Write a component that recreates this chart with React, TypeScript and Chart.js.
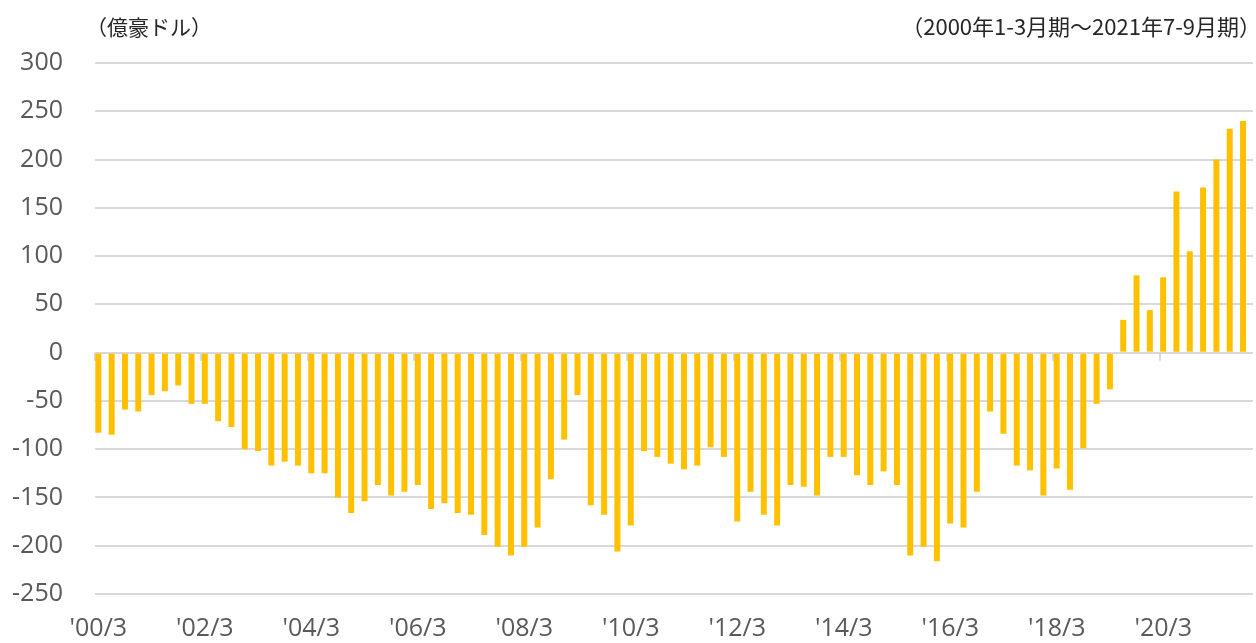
import { useEffect, useRef } from "react";
import { Chart, registerables } from "chart.js";

Chart.register(...registerables);

// Quarterly categories: 2000 Jan-Mar (…/3) to 2021 Jul-Sep (…/9)
const years = [2000, 2001, 2002, 2003, 2004, 2005, 2006, 2007, 2008, 2009, 2010, 2011, 2012, 2013, 2014, 2015, 2016, 2017, 2018, 2019, 2020, 2021];
const quarterMonths = [3, 6, 9, 12];
const categories: string[] = [];
years.forEach((y) => {
  quarterMonths.forEach((m) => {
    if (y === 2021 && m === 12) return;
    categories.push(`'${String(y).slice(2)}/${m}`);
  });
});

const tickLabels = ["'00/3", "'02/3", "'04/3", "'06/3", "'08/3", "'10/3", "'12/3", "'14/3", "'16/3", "'18/3", "'20/3"];

// 億豪ドル
const balance = [
  -83, -85, -59, -61, -44, -40, -34, -53,
  -53, -71, -77, -100, -102, -117, -113, -117,
  -125, -125, -150, -166, -154, -137, -148, -144,
  -137, -162, -156, -166, -168, -189, -201, -210,
  -201, -181, -131, -90, -44, -158, -168, -206,
  -179, -102, -108, -115, -121, -117, -98, -108,
  -175, -144, -168, -179, -137, -139, -148, -108,
  -108, -127, -137, -123, -137, -210, -201, -216,
  -177, -181, -144, -61, -84, -117, -122, -148,
  -120, -142, -99, -53, -38, 34, 80, 44,
  78, 167, 105, 171, 200, 232, 240,
];

const yMin = -250;
const yMax = 300;
const yStep = 50;

const unitTitle = "（億豪ドル）";
const periodTitle = "（2000年1-3月期～2021年7-9月期）";

const LABEL_FONT = '"Open Sans", "Noto Sans CJK JP", sans-serif';
const TITLE_FONT = '"Noto Sans CJK JP", "Open Sans", sans-serif';

export default function App() {
  const ref = useRef<HTMLCanvasElement | null>(null);

  useEffect(() => {
    if (!ref.current) return;

    const decor = {
      id: "decor",
      beforeDatasetsDraw(chart: any) {
        const { ctx } = chart;
        const xs = chart.scales.x;
        const ys = chart.scales.y;
        const zero = ys.getPixelForValue(0);
        const pitch = xs.width / categories.length;
        ctx.save();
        ctx.strokeStyle = "#d9d9d9";
        ctx.lineWidth = 2;
        for (let i = 0; i < categories.length; i += 8) {
          const x = Math.round(xs.getPixelForValue(i) - pitch / 2);
          ctx.beginPath();
          ctx.moveTo(x, zero);
          ctx.lineTo(x, zero + 8);
          ctx.stroke();
        }
        ctx.restore();
      },
      afterDraw(chart: any) {
        const { ctx } = chart;
        ctx.save();
        ctx.fillStyle = "#262626";
        ctx.textBaseline = "middle";
        ctx.font = `21px ${TITLE_FONT}`;
        ctx.textAlign = "left";
        ctx.fillText(unitTitle, 86, 27);
        ctx.font = `22px ${TITLE_FONT}`;
        ctx.textAlign = "right";
        ctx.fillText(periodTitle, 1261, 27);
        ctx.restore();
      },
    };

    const chart = new Chart(ref.current, {
      type: "bar",
      data: {
        labels: categories,
        datasets: [
          {
            data: balance,
            backgroundColor: "#FFC000",
            borderWidth: 0,
            categoryPercentage: 1,
            barPercentage: 0.9,
          },
          {
            data: balance.map(() => null),
            backgroundColor: "rgba(0,0,0,0)",
            borderWidth: 0,
            categoryPercentage: 1,
            barPercentage: 0.9,
          },
        ],
      },
      options: {
        animation: false,
        responsive: false,
        maintainAspectRatio: false,
        layout: { padding: { top: 63, right: 3, left: 0, bottom: 0 } },
        plugins: {
          legend: { display: false },
          tooltip: { enabled: false },
          title: { display: false },
        },
        scales: {
          x: {
            grid: { display: false, drawTicks: false },
            border: { display: false },
            ticks: {
              autoSkip: false,
              maxRotation: 0,
              minRotation: 0,
              labelOffset: -3.3,
              padding: 20,
              color: "#595959",
              font: { family: LABEL_FONT, size: 25 },
              callback: (_v: any, i: number) => (i % 8 === 0 ? tickLabels[i / 8] : ""),
            },
            afterFit: (s: any) => {
              s.height = 49;
              s.paddingLeft = 0;
              s.paddingRight = 0;
            },
          },
          y: {
            min: yMin,
            max: yMax,
            grid: { color: "#d9d9d9", lineWidth: 2, drawTicks: false },
            border: { display: false },
            ticks: {
              stepSize: yStep,
              padding: 32,
              color: "#595959",
              font: { family: LABEL_FONT, size: 25 },
            },
            afterFit: (s: any) => {
              s.width = 95;
            },
          },
        },
      },
      plugins: [decor],
    });

    return () => chart.destroy();
  }, []);

  return (
    <div style={{ position: "absolute", left: 0, top: 0, width: 1256, height: 643, background: "#fff" }}>
      <canvas ref={ref} width={1256} height={643} />
    </div>
  );
}
